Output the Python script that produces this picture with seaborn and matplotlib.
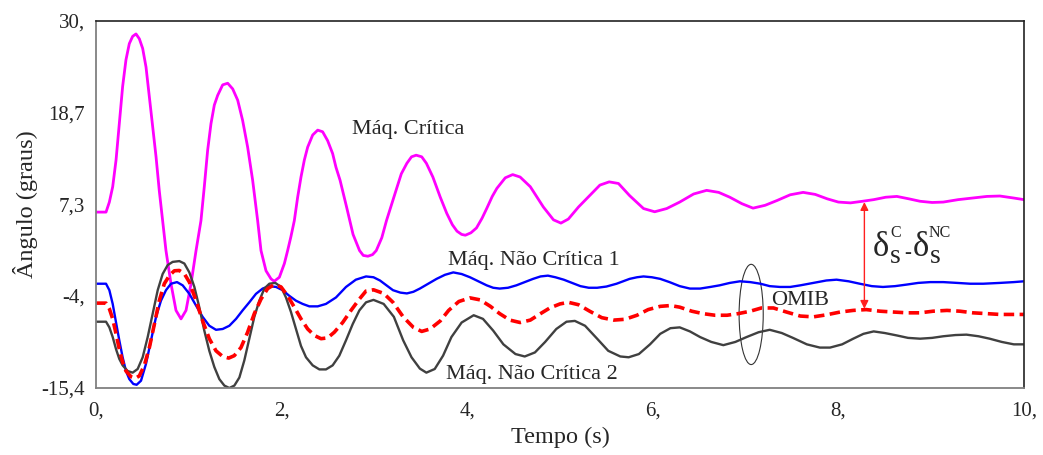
import numpy as np
import pandas as pd
import matplotlib
matplotlib.use("Agg")
import matplotlib.pyplot as plt
import seaborn as sns
from matplotlib.patches import Ellipse

# ---- data ----
t_crit = [0.000, 0.108, 0.144, 0.180, 0.216, 0.251, 0.287, 0.323, 0.359, 0.395, 0.431, 0.467, 0.503,
          0.539, 0.575, 0.611, 0.647, 0.682, 0.718, 0.754, 0.808, 0.862, 0.916, 0.970, 1.024, 1.078,
          1.131, 1.167, 1.203, 1.239, 1.275, 1.311, 1.365, 1.419, 1.473, 1.527, 1.580, 1.634, 1.688,
          1.724, 1.742, 1.778, 1.832, 1.886, 1.920, 1.976, 2.030, 2.065, 2.100, 2.137, 2.173, 2.209,
          2.245, 2.281, 2.335, 2.389, 2.442, 2.496, 2.550, 2.586, 2.630, 2.700, 2.770, 2.840, 2.880,
          2.930, 2.980, 3.020, 3.080, 3.130, 3.190, 3.240, 3.290, 3.350, 3.400, 3.450, 3.510, 3.560,
          3.630, 3.710, 3.780, 3.840, 3.890, 3.940, 3.980, 4.040, 4.100, 4.160, 4.210, 4.270, 4.320,
          4.410, 4.490, 4.570, 4.680, 4.820, 4.930, 5.010, 5.090, 5.200, 5.320, 5.430, 5.530, 5.630,
          5.750, 5.900, 6.020, 6.150, 6.290, 6.440, 6.580, 6.710, 6.830, 6.960, 7.080, 7.210, 7.340,
          7.480, 7.620, 7.750, 7.880, 8.000, 8.130, 8.260, 8.380, 8.510, 8.630, 8.760, 8.880, 9.010,
          9.130, 9.290, 9.450, 9.600, 9.740, 9.890, 10.00]
v_crit = [6.36, 6.36, 7.6, 9.5, 12.8, 17.3, 21.9, 25.2, 27.2, 28.1, 28.4, 27.8, 26.6,
          24.3, 20.6, 16.9, 13.2, 9.0, 5.3, 1.6, -2.5, -5.8, -6.85, -5.8, -2.5, 1.6,
          5.3, 9.5, 14.0, 17.3, 19.6, 20.8, 22.1, 22.3, 21.6, 20.2, 17.7, 14.4, 10.3,
          7.0, 5.3, 1.6, -0.9, -1.9, -2.2, -1.7, 0.0, 1.6, 3.3, 5.3, 8.2, 10.7,
          12.8, 14.4, 15.9, 16.5, 16.3, 15.2, 13.6, 11.9, 10.3, 7.0, 3.6, 1.6, 1.0,
          0.9, 1.1, 1.6, 3.2, 5.3, 7.5, 9.3, 11.1, 12.4, 13.2, 13.4, 13.2, 12.4,
          10.7, 8.2, 6.2, 4.8, 4.0, 3.6, 3.5, 3.8, 4.4, 5.6, 6.8, 8.3, 9.3,
          10.6, 11.0, 10.7, 9.5, 7.0, 5.4, 5.0, 5.5, 7.0, 8.4, 9.7, 10.1, 9.9,
          8.4, 6.8, 6.4, 6.8, 7.6, 8.6, 9.05, 8.8, 8.2, 7.4, 6.85, 7.2, 7.8,
          8.5, 8.8, 8.55, 8.0, 7.6, 7.5, 7.7, 7.9, 8.2, 8.3, 8.0, 7.7, 7.55,
          7.6, 7.9, 8.1, 8.3, 8.35, 8.1, 7.9]

t_nc1 = [0.000, 0.108, 0.144, 0.180, 0.216, 0.251, 0.287, 0.323, 0.359, 0.402, 0.438, 0.485, 0.539,
         0.593, 0.647, 0.700, 0.754, 0.808, 0.873, 0.934, 1.006, 1.078, 1.149, 1.221, 1.293, 1.365,
         1.437, 1.509, 1.580, 1.652, 1.724, 1.796, 1.868, 1.940, 2.011, 2.083, 2.155, 2.227, 2.299,
         2.389, 2.478, 2.586, 2.694, 2.800, 2.910, 2.990, 3.060, 3.130, 3.200, 3.280, 3.350, 3.420,
         3.490, 3.580, 3.670, 3.760, 3.850, 3.940, 4.030, 4.120, 4.210, 4.280, 4.350, 4.440, 4.530,
         4.620, 4.710, 4.790, 4.870, 4.950, 5.040, 5.130, 5.220, 5.310, 5.400, 5.500, 5.610, 5.680,
         5.750, 5.830, 5.900, 5.990, 6.080, 6.180, 6.290, 6.400, 6.510, 6.620, 6.720, 6.830, 6.940,
         7.050, 7.160, 7.260, 7.370, 7.480, 7.590, 7.730, 7.870, 7.980, 8.110, 8.230, 8.360, 8.480,
         8.610, 8.740, 8.860, 8.990, 9.130, 9.280, 9.420, 9.560, 9.740, 9.890, 10.00]
v_nc1 = [-2.5, -2.5, -3.3, -5.0, -7.3, -9.5, -11.6, -13.3, -14.3, -14.9, -15.0, -14.5, -12.4,
         -9.5, -6.6, -4.6, -3.3, -2.5, -2.3, -2.7, -3.75, -5.2, -6.6, -7.7, -8.2, -8.1,
         -7.7, -6.85, -5.8, -4.8, -3.75, -3.1, -2.8, -2.9, -3.3, -4.0, -4.6, -5.0, -5.3,
         -5.3, -5.0, -4.2, -2.9, -2.0, -1.6, -1.7, -2.1, -2.7, -3.3, -3.6, -3.7, -3.5,
         -3.1, -2.5, -1.9, -1.4, -1.1, -1.3, -1.7, -2.2, -2.7, -3.0, -3.1, -3.0, -2.7,
         -2.3, -1.9, -1.6, -1.5, -1.7, -2.0, -2.4, -2.8, -3.0, -3.0, -2.85, -2.5, -2.2,
         -1.9, -1.7, -1.6, -1.7, -1.9, -2.3, -2.8, -3.1, -3.1, -2.9, -2.7, -2.4, -2.2,
         -2.3, -2.5, -2.8, -2.9, -2.9, -2.7, -2.4, -2.1, -2.0, -2.2, -2.5, -2.8, -2.9,
         -2.8, -2.6, -2.4, -2.3, -2.3, -2.4, -2.5, -2.5, -2.4, -2.3, -2.2]

t_omib = [0.000, 0.108, 0.144, 0.180, 0.216, 0.251, 0.287, 0.323, 0.377, 0.424, 0.467, 0.521, 0.575,
          0.629, 0.682, 0.736, 0.790, 0.844, 0.898, 0.952, 1.006, 1.078, 1.149, 1.221, 1.293, 1.365,
          1.430, 1.490, 1.562, 1.634, 1.706, 1.778, 1.850, 1.922, 1.994, 2.065, 2.137, 2.209, 2.281,
          2.353, 2.425, 2.496, 2.568, 2.658, 2.748, 2.838, 2.910, 2.990, 3.100, 3.200, 3.310, 3.420,
          3.510, 3.600, 3.710, 3.800, 3.910, 4.030, 4.140, 4.250, 4.350, 4.460, 4.570, 4.680, 4.790,
          4.890, 5.000, 5.090, 5.200, 5.320, 5.450, 5.580, 5.700, 5.830, 5.950, 6.080, 6.190, 6.290,
          6.420, 6.540, 6.670, 6.800, 6.920, 7.050, 7.170, 7.300, 7.440, 7.590, 7.730, 7.870, 8.020,
          8.160, 8.300, 8.450, 8.590, 8.740, 8.880, 9.020, 9.170, 9.310, 9.450, 9.600, 9.740, 10.00]
v_omib = [-4.9, -4.9, -5.6, -6.85, -8.7, -10.6, -12.2, -13.3, -14.0, -14.2, -13.9, -12.6, -10.4,
          -7.5, -4.6, -2.5, -1.5, -0.9, -0.86, -1.27, -2.3, -4.6, -7.1, -9.3, -10.8, -11.5,
          -11.7, -11.4, -10.4, -8.5, -6.2, -4.4, -3.1, -2.6, -2.9, -4.0, -5.4, -6.85, -8.1,
          -8.9, -9.3, -9.2, -8.5, -7.3, -5.8, -4.4, -3.4, -3.25, -3.7, -4.8, -6.6, -7.9,
          -8.4, -8.1, -7.1, -5.8, -4.7, -4.25, -4.5, -5.3, -6.2, -7.0, -7.3, -7.0, -6.2,
          -5.5, -5.0, -4.8, -5.1, -5.9, -6.7, -7.0, -6.9, -6.4, -5.7, -5.3, -5.2, -5.4,
          -5.9, -6.2, -6.4, -6.4, -6.2, -5.9, -5.5, -5.5, -6.0, -6.5, -6.6, -6.35, -6.0,
          -5.8, -5.7, -5.9, -6.0, -6.1, -6.1, -5.9, -5.8, -5.9, -6.1, -6.2, -6.3, -6.3]

t_nc2 = [0.000, 0.108, 0.144, 0.180, 0.216, 0.251, 0.287, 0.341, 0.395, 0.449, 0.503, 0.557, 0.611,
         0.665, 0.718, 0.772, 0.826, 0.898, 0.952, 1.006, 1.060, 1.113, 1.167, 1.221, 1.275, 1.329,
         1.383, 1.437, 1.491, 1.545, 1.598, 1.652, 1.706, 1.760, 1.814, 1.868, 1.932, 1.994, 2.047,
         2.101, 2.155, 2.209, 2.263, 2.335, 2.407, 2.478, 2.550, 2.622, 2.694, 2.766, 2.838, 2.910,
         2.990, 3.100, 3.210, 3.310, 3.400, 3.490, 3.560, 3.650, 3.740, 3.830, 3.940, 4.070, 4.170,
         4.280, 4.390, 4.520, 4.620, 4.730, 4.840, 4.960, 5.070, 5.160, 5.270, 5.400, 5.520, 5.650,
         5.740, 5.850, 5.970, 6.080, 6.190, 6.290, 6.400, 6.510, 6.630, 6.760, 6.890, 7.010, 7.140,
         7.260, 7.390, 7.510, 7.660, 7.800, 7.910, 8.040, 8.160, 8.270, 8.380, 8.500, 8.630, 8.750,
         8.880, 9.010, 9.130, 9.260, 9.380, 9.510, 9.630, 9.760, 9.890, 10.00]
v_nc2 = [-7.2, -7.2, -7.9, -9.1, -10.6, -11.8, -12.6, -13.3, -13.5, -13.05, -11.6, -9.1, -6.2,
         -3.3, -1.3, -0.2, 0.2, 0.3, 0.0, -1.1, -2.9, -5.4, -8.3, -10.8, -12.8, -14.3,
         -15.1, -15.4, -15.1, -14.1, -12.0, -9.3, -6.6, -4.6, -3.1, -2.5, -2.4, -2.9, -4.2,
         -6.0, -8.1, -10.2, -11.6, -12.6, -13.1, -13.1, -12.6, -11.4, -9.5, -7.5, -5.8, -4.8,
         -4.5, -5.0, -6.6, -9.5, -11.6, -13.0, -13.5, -13.05, -11.4, -9.1, -7.3, -6.4, -6.85,
         -8.3, -10.0, -11.2, -11.5, -11.0, -9.7, -8.1, -7.2, -7.1, -7.7, -9.3, -10.8, -11.5,
         -11.6, -11.2, -10.0, -8.7, -8.0, -7.9, -8.4, -9.1, -9.7, -10.1, -9.7, -9.1, -8.5,
         -8.2, -8.6, -9.2, -10.0, -10.4, -10.4, -10.0, -9.3, -8.7, -8.4, -8.6, -8.9, -9.2,
         -9.3, -9.2, -9.0, -8.85, -8.8, -9.0, -9.3, -9.7, -10.0, -10.0]

x_ticks = [0, 2, 4, 6, 8, 10]
x_tick_labels = ["0,", "2,", "4,", "6,", "8,", "10,"]
y_ticks = [-15.4, -4.0, 7.3, 18.7, 30.0]
y_tick_labels = ["-15,4", "-4,", "7,3", "18,7", "30,"]

labels = ["Máq. Crítica", "Máq. Não Crítica 1", "Máq. Não Crítica 2", "OMIB"]

# ---- style ----
sns.set_style("white")
plt.rcParams["font.family"] = ["Liberation Serif", "DejaVu Serif"]

W, H = 1043, 455
fig = plt.figure(figsize=(W / 100, H / 100), dpi=100)
ax = fig.add_axes([96 / W, 1 - 388 / H, 928 / W, 367 / H])

sns.lineplot(x=t_crit, y=v_crit, ax=ax, color="#ff00ff", lw=2.0, sort=False)
sns.lineplot(x=t_nc1, y=v_nc1, ax=ax, color="#0000ff", lw=1.7, sort=False)
sns.lineplot(x=t_nc2, y=v_nc2, ax=ax, color="#404040", lw=1.7, sort=False)
sns.lineplot(x=t_omib, y=v_omib, ax=ax, color="#ff0000", lw=2.6, sort=False)
ax.lines[-1].set_linestyle((0, (2.9, 1.5)))
for ln in ax.lines:
    ln.set_solid_joinstyle("round")

ax.set_xlim(0, 10)
ax.set_ylim(-15.4, 30)
ax.set_xticks(x_ticks)
ax.set_xticklabels(x_tick_labels)
ax.set_yticks(y_ticks)
ax.set_yticklabels(y_tick_labels)
ax.tick_params(axis="x", direction="inout", length=7, width=1, color="#555555",
               labelsize=15, pad=6)
ax.tick_params(axis="y", direction="out", length=5, width=1, color="#555555",
               labelsize=15, pad=3)

for side in ["left", "bottom"]:
    ax.spines[side].set_color("#808080")
    ax.spines[side].set_linewidth(1.3)
for side in ["top", "right"]:
    ax.spines[side].set_color("#222222")
    ax.spines[side].set_linewidth(1.2)

ax.set_xlabel("Tempo (s)", fontsize=17.5)
ax.set_ylabel("Ângulo (graus)", fontsize=17.5)
ax.xaxis.set_label_coords(0.5, -0.105)
ax.yaxis.set_label_coords(-0.063, 0.5)

# ---- annotations ----
ax.text(2.76, 16.6, labels[0], fontsize=16, ha="left", va="center")
ax.text(3.79, 0.35, labels[1], fontsize=16, ha="left", va="center")
ax.text(3.77, -13.75, labels[2], fontsize=16, ha="left", va="center")
ax.text(7.28, -4.55, labels[3], fontsize=16, ha="left", va="center")

ax.add_patch(Ellipse((7.06, -6.3), width=0.26, height=12.4, fill=False,
                     ec="#333333", lw=0.8))

ax.annotate("", xy=(8.28, 7.6), xytext=(8.28, -5.6),
            arrowprops=dict(arrowstyle="<|-|>", color="#ff2020", lw=1.0,
                            mutation_scale=12, shrinkA=0, shrinkB=0))

# delta_s^C - delta_s^NC, composed piece by piece (pixel positions)
def ptext(px, py, s, size):
    fig.text(px / W, 1 - py / H, s, fontsize=size, ha="left", va="baseline")

ptext(873, 256, "δ", 25)
ptext(890, 263, "s", 20)
ptext(890, 237, "C", 11.5)
ptext(904, 258, "-", 15)
ptext(913, 256, "δ", 25)
ptext(930, 263, "s", 20)
ptext(929, 237, "NC", 11.5)

fig.savefig("out.png", dpi=100)
